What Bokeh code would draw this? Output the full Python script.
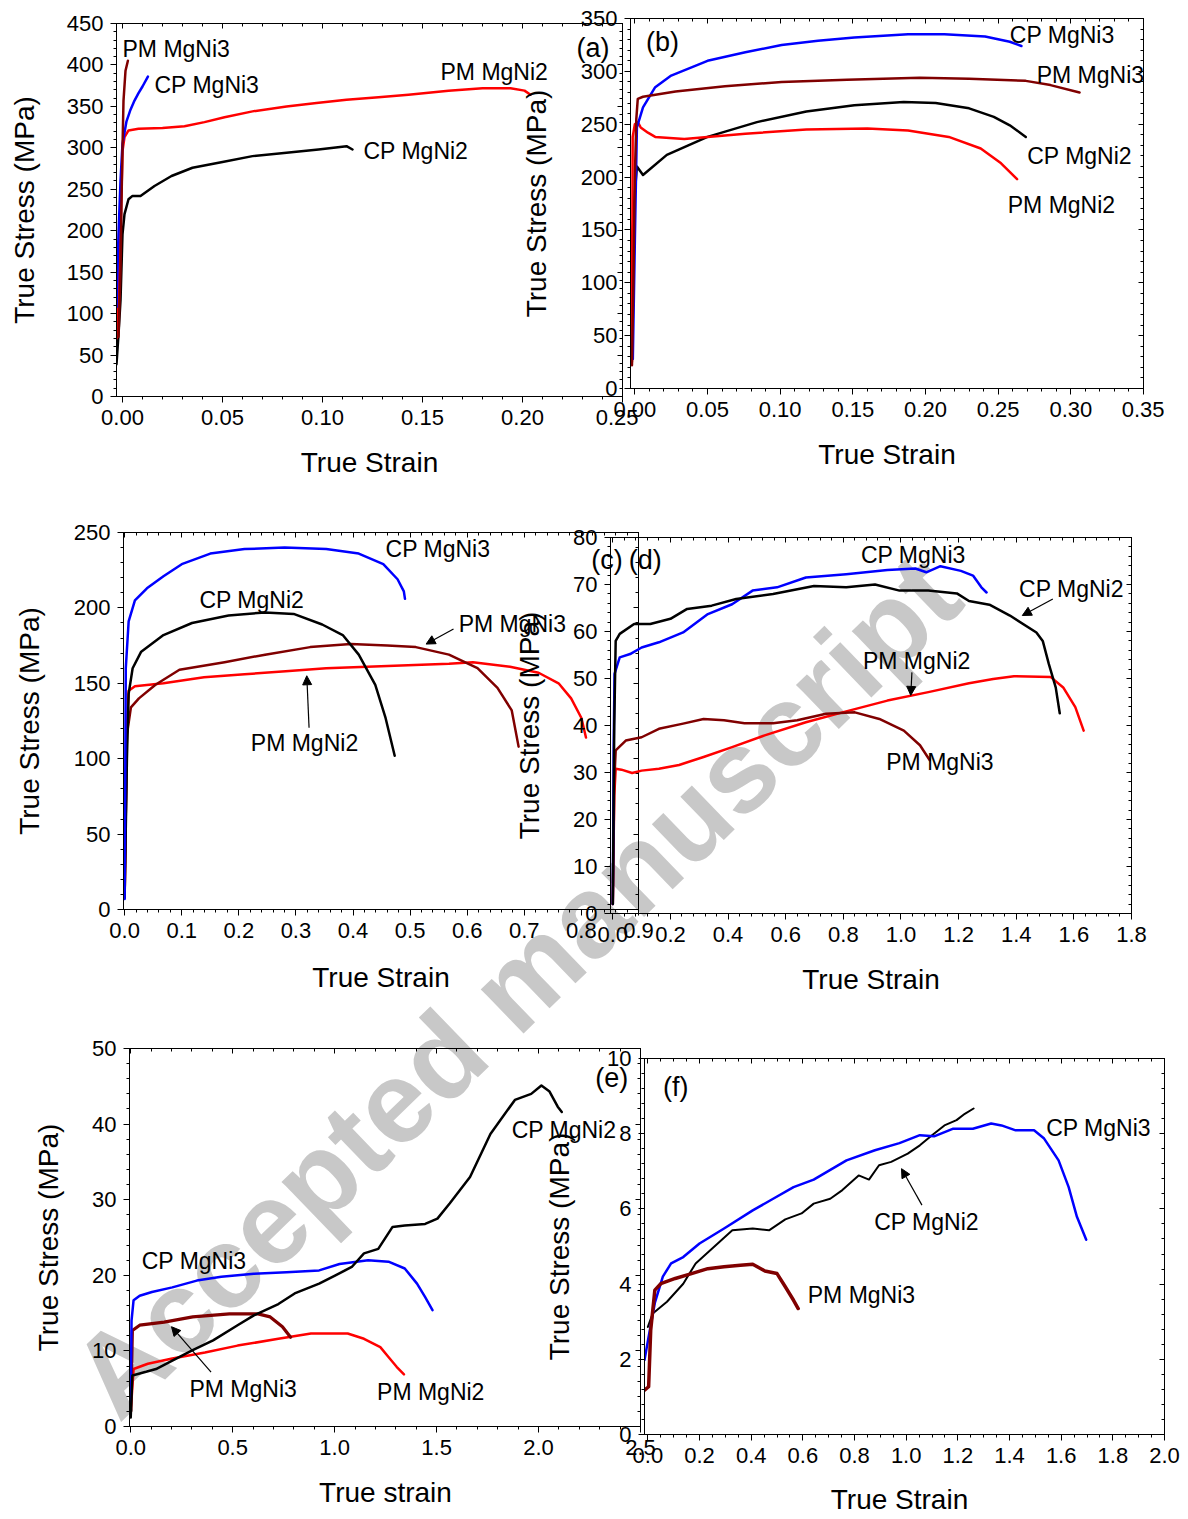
import numpy as np
from bokeh.plotting import figure
from bokeh.models import Range1d, LinearAxis, FixedTicker, Label, Arrow, NormalHead, Row, Column
from bokeh.embed import file_html
from bokeh.resources import INLINE

FONT = "Liberation Sans"
BLUE = "#0000ff"
RED = "#ff0000"
DARKRED = "#800000"
BLACK = "#000000"

# ---------------- panel (a) ----------------
A_XTICKS = [0.00, 0.05, 0.10, 0.15, 0.20, 0.25]
A_XTICK_LABELS = ["0.00", "0.05", "0.10", "0.15", "0.20", "0.25"]
A_YTICKS = [0, 50, 100, 150, 200, 250, 300, 350, 400, 450]
A_YTICK_LABELS = ["0", "50", "100", "150", "200", "250", "300", "350", "400", "450"]
A_CP_MGNI2_X = [-0.003, -0.002, -0.001, 0.000, 0.001, 0.003, 0.005, 0.009, 0.016, 0.0245, 0.035, 0.050, 0.065, 0.082, 0.098, 0.112, 0.115]
A_CP_MGNI2_Y = [39, 75, 116, 196, 220, 238, 242, 242, 254, 266, 276, 283, 290, 294, 298, 302, 298]
A_PM_MGNI2_X = [-0.003, -0.002, -0.001, 0.000, 0.001, 0.003, 0.008, 0.020, 0.031, 0.041, 0.051, 0.065, 0.082, 0.097, 0.112, 0.128, 0.143, 0.163, 0.180, 0.194, 0.201, 0.204]
A_PM_MGNI2_Y = [70, 116, 196, 296, 313, 321, 323, 324, 326, 331, 337, 344, 350, 354, 358, 361, 364, 369, 372, 372, 369, 364]
A_CP_MGNI3_X = [-0.003, -0.002, -0.001, 0.000, 0.002, 0.004, 0.006, 0.008, 0.010, 0.0127]
A_CP_MGNI3_Y = [108, 196, 260, 305, 332, 346, 357, 366, 374, 386]
A_PM_MGNI3_X = [-0.002, -0.001, -0.0005, 0.000, 0.0005, 0.0015, 0.0027]
A_PM_MGNI3_Y = [72, 150, 236, 300, 357, 393, 405]
A_LABELS = [("PM MgNi3", 0.000, 419), ("CP MgNi3", 0.016, 376), ("PM MgNi2", 0.159, 391), ("CP MgNi2", 0.1205, 296)]
A_TAG = ("(a)", 0.2353, 420)

# ---------------- panel (b) ----------------
B_XTICKS = [0.00, 0.05, 0.10, 0.15, 0.20, 0.25, 0.30, 0.35]
B_XTICK_LABELS = ["0.00", "0.05", "0.10", "0.15", "0.20", "0.25", "0.30", "0.35"]
B_YTICKS = [0, 50, 100, 150, 200, 250, 300, 350]
B_YTICK_LABELS = ["0", "50", "100", "150", "200", "250", "300", "350"]
B_CP_MGNI3_X = [-0.0014, 0.000, 0.0014, 0.0056, 0.014, 0.025, 0.050, 0.076, 0.101, 0.126, 0.151, 0.188, 0.213, 0.241, 0.258, 0.266]
B_CP_MGNI3_Y = [28, 140, 247, 266, 285, 296, 310, 318, 325, 329, 332, 335, 335, 333, 328, 324]
B_PM_MGNI3_X = [-0.002, -0.001, 0.000, 0.001, 0.002, 0.0056, 0.028, 0.062, 0.101, 0.146, 0.196, 0.230, 0.269, 0.286, 0.306]
B_PM_MGNI3_Y = [22, 100, 200, 255, 274, 276, 281, 286, 290, 292, 294, 293, 291, 287, 280]
B_CP_MGNI2_X = [-0.003, -0.002, 0.000, 0.0014, 0.0056, 0.022, 0.050, 0.084, 0.118, 0.151, 0.185, 0.207, 0.230, 0.247, 0.258, 0.269]
B_CP_MGNI2_Y = [118, 140, 185, 210, 202, 221, 238, 252, 262, 268, 271, 270, 265, 257, 249, 238]
B_PM_MGNI2_X = [-0.002, -0.0018, -0.0015, 0.000, 0.002, 0.004, 0.009, 0.014, 0.034, 0.076, 0.118, 0.160, 0.188, 0.216, 0.238, 0.252, 0.263]
B_PM_MGNI2_Y = [25, 120, 238, 250, 252, 247, 242, 238, 236, 241, 245, 246, 244, 238, 227, 213, 198]
B_LABELS = [("CP MgNi3", 0.258, 334), ("PM MgNi3", 0.2765, 297), ("CP MgNi2", 0.270, 220), ("PM MgNi2", 0.2566, 174)]
B_TAG = ("(b)", 0.019, 328)

# ---------------- panel (c) ----------------
C_XTICKS = [0.0, 0.1, 0.2, 0.3, 0.4, 0.5, 0.6, 0.7, 0.8, 0.9]
C_XTICK_LABELS = ["0.0", "0.1", "0.2", "0.3", "0.4", "0.5", "0.6", "0.7", "0.8", "0.9"]
C_YTICKS = [0, 50, 100, 150, 200, 250]
C_YTICK_LABELS = ["0", "50", "100", "150", "200", "250"]
C_CP_MGNI3_X = [0.000, 0.002, 0.007, 0.018, 0.039, 0.068, 0.100, 0.150, 0.210, 0.280, 0.353, 0.410, 0.453, 0.478, 0.489, 0.491]
C_CP_MGNI3_Y = [7, 160, 191, 205, 213, 221, 229, 236, 239, 240, 239, 236, 229, 219, 211, 206]
C_CP_MGNI2_X = [0.000, 0.004, 0.007, 0.014, 0.029, 0.068, 0.118, 0.182, 0.246, 0.296, 0.346, 0.382, 0.410, 0.439, 0.457, 0.473]
C_CP_MGNI2_Y = [8, 100, 143, 160, 171, 182, 190, 195, 197, 196, 189, 182, 169, 149, 127, 102]
C_PM_MGNI3_X = [0.000, 0.004, 0.011, 0.025, 0.054, 0.096, 0.175, 0.246, 0.325, 0.396, 0.460, 0.510, 0.568, 0.618, 0.653, 0.678, 0.690]
C_PM_MGNI3_Y = [8, 116, 134, 140, 149, 159, 164, 169, 174, 176, 175, 174, 169, 160, 147, 132, 108]
C_PM_MGNI2_X = [0.000, 0.004, 0.007, 0.018, 0.068, 0.139, 0.210, 0.282, 0.353, 0.425, 0.496, 0.568, 0.610, 0.675, 0.725, 0.760, 0.782, 0.800, 0.808]
C_PM_MGNI2_Y = [8, 120, 145, 148, 150, 154, 156, 158, 160, 161, 162, 163, 164, 161, 157, 150, 140, 127, 114]
C_LABELS = [("CP MgNi3", 0.457, 239), ("CP MgNi2", 0.131, 205), ("PM MgNi3", 0.585, 189), ("PM MgNi2", 0.221, 110.6)]
C_ARROWS = [(0.576, 186, 0.528, 176), (0.323, 120.5, 0.319, 155)]
C_TAG = ("(c)", 0.845, 232)

# ---------------- panel (d) ----------------
D_XTICKS = [0.0, 0.2, 0.4, 0.6, 0.8, 1.0, 1.2, 1.4, 1.6, 1.8]
D_XTICK_LABELS = ["0.0", "0.2", "0.4", "0.6", "0.8", "1.0", "1.2", "1.4", "1.6", "1.8"]
D_YTICKS = [0, 10, 20, 30, 40, 50, 60, 70, 80]
D_YTICK_LABELS = ["0", "10", "20", "30", "40", "50", "60", "70", "80"]
D_CP_MGNI3_X = [0.000, 0.003, 0.006, 0.024, 0.060, 0.100, 0.160, 0.244, 0.330, 0.414, 0.485, 0.570, 0.670, 0.810, 0.953, 1.050, 1.088, 1.137, 1.208, 1.250, 1.279, 1.297]
D_CP_MGNI3_Y = [2, 35, 51, 54.5, 55.2, 56.6, 57.7, 59.8, 63.7, 65.8, 68.7, 69.4, 71.5, 72.2, 73.1, 73.4, 72.6, 73.9, 72.9, 71.9, 69.4, 68.3]
D_CP_MGNI2_X = [0.000, 0.005, 0.010, 0.024, 0.074, 0.130, 0.200, 0.258, 0.343, 0.428, 0.556, 0.698, 0.810, 0.910, 0.995, 1.095, 1.194, 1.236, 1.307, 1.378, 1.470, 1.492, 1.513, 1.537, 1.551]
D_CP_MGNI2_Y = [2, 40, 58, 59.5, 61.6, 61.6, 62.7, 64.8, 65.5, 66.9, 68.0, 69.7, 69.4, 70.0, 68.7, 68.7, 68.1, 66.5, 65.7, 63.4, 59.8, 58.0, 53.1, 48.1, 42.6]
D_PM_MGNI3_X = [0.000, 0.005, 0.010, 0.045, 0.100, 0.160, 0.244, 0.315, 0.386, 0.457, 0.556, 0.640, 0.740, 0.840, 0.925, 1.010, 1.066, 1.100]
D_PM_MGNI3_Y = [2, 28, 34.7, 36.8, 37.5, 39.3, 40.4, 41.4, 41.1, 40.5, 40.5, 41.1, 42.5, 42.8, 41.4, 38.9, 35.8, 32.6]
D_PM_MGNI2_X = [0.000, 0.005, 0.010, 0.030, 0.067, 0.100, 0.160, 0.230, 0.315, 0.414, 0.527, 0.670, 0.810, 0.953, 1.095, 1.236, 1.320, 1.392, 1.520, 1.563, 1.605, 1.634]
D_PM_MGNI2_Y = [2, 25, 30.8, 30.6, 29.9, 30.4, 30.8, 31.6, 33.3, 35.4, 37.9, 40.7, 43.0, 45.3, 47.1, 49.0, 49.9, 50.5, 50.3, 48.1, 43.9, 38.9]
D_LABELS = [("CP MgNi3", 0.861, 76.3), ("CP MgNi2", 1.41, 69.0), ("PM MgNi2", 0.868, 53.8), ("PM MgNi3", 0.949, 32.2)]
D_ARROWS = [(1.527, 66.9, 1.421, 63.4), (1.038, 51.3, 1.034, 46.4)]
D_TAG = ("(d)", 0.1125, 75.3)

# ---------------- panel (e) ----------------
E_XTICKS = [0.0, 0.5, 1.0, 1.5, 2.0, 2.5]
E_XTICK_LABELS = ["0.0", "0.5", "1.0", "1.5", "2.0", "2.5"]
E_YTICKS = [0, 10, 20, 30, 40, 50]
E_YTICK_LABELS = ["0", "10", "20", "30", "40", "50"]
E_CP_MGNI2_X = [0.000, 0.008, 0.044, 0.124, 0.204, 0.304, 0.404, 0.524, 0.604, 0.724, 0.804, 0.924, 1.004, 1.084, 1.144, 1.214, 1.284, 1.344, 1.444, 1.504, 1.564, 1.664, 1.764, 1.884, 1.964, 2.014, 2.054, 2.094, 2.114]
E_CP_MGNI2_Y = [1.2, 6.75, 7.0, 7.6, 8.7, 10.1, 11.4, 13.4, 14.7, 16.2, 17.6, 18.9, 20.0, 21.1, 22.9, 23.5, 26.4, 26.6, 26.8, 27.5, 29.5, 33.0, 38.7, 43.2, 44.0, 45.1, 44.3, 42.3, 41.6]
E_CP_MGNI3_X = [0.000, 0.004, 0.014, 0.044, 0.104, 0.204, 0.324, 0.444, 0.604, 0.764, 0.924, 1.024, 1.164, 1.264, 1.344, 1.404, 1.444, 1.480]
E_CP_MGNI3_Y = [2.5, 14.0, 16.7, 17.3, 17.8, 18.4, 19.3, 19.8, 20.2, 20.4, 20.65, 21.5, 22.0, 21.8, 20.9, 18.9, 17.1, 15.4]
E_PM_MGNI3_X = [0.000, 0.008, 0.044, 0.164, 0.304, 0.484, 0.624, 0.684, 0.744, 0.784]
E_PM_MGNI3_Y = [2.0, 12.7, 13.4, 13.8, 14.5, 14.9, 14.9, 14.5, 13.2, 11.8]
E_PM_MGNI2_X = [0.000, 0.014, 0.084, 0.204, 0.364, 0.524, 0.724, 0.884, 1.064, 1.144, 1.224, 1.264, 1.304, 1.340]
E_PM_MGNI2_Y = [2.0, 7.6, 8.3, 9.0, 9.8, 10.7, 11.6, 12.3, 12.3, 11.6, 10.5, 9.2, 7.9, 6.9]
E_LABELS = [("CP MgNi2", 1.868, 39.2), ("CP MgNi3", 0.054, 21.9), ("PM MgNi3", 0.288, 4.9), ("PM MgNi2", 1.208, 4.6)]
E_ARROWS = [(0.394, 7.2, 0.200, 13.2)]
E_TAG = ("(e)", 2.359, 46.1)

# ---------------- panel (f) ----------------
F_XTICKS = [0.0, 0.2, 0.4, 0.6, 0.8, 1.0, 1.2, 1.4, 1.6, 1.8, 2.0]
F_XTICK_LABELS = ["0.0", "0.2", "0.4", "0.6", "0.8", "1.0", "1.2", "1.4", "1.6", "1.8", "2.0"]
F_YTICKS = [0, 2, 4, 6, 8, 10]
F_YTICK_LABELS = ["0", "2", "4", "6", "8", "10"]
F_CP_MGNI3_X = [-0.013, 0.003, 0.027, 0.058, 0.090, 0.137, 0.200, 0.295, 0.406, 0.485, 0.564, 0.642, 0.769, 0.879, 0.974, 1.053, 1.108, 1.180, 1.258, 1.329, 1.369, 1.424, 1.495, 1.534, 1.590, 1.629, 1.661, 1.697]
F_CP_MGNI3_Y = [1.98, 2.6, 3.5, 4.2, 4.55, 4.72, 5.08, 5.48, 5.96, 6.27, 6.58, 6.78, 7.29, 7.56, 7.75, 7.96, 7.93, 8.13, 8.13, 8.27, 8.22, 8.09, 8.09, 7.87, 7.29, 6.58, 5.79, 5.18]
F_CP_MGNI2_X = [0.000, 0.019, 0.074, 0.137, 0.185, 0.248, 0.327, 0.406, 0.469, 0.532, 0.595, 0.642, 0.706, 0.753, 0.816, 0.856, 0.895, 0.942, 1.006, 1.053, 1.100, 1.148, 1.195, 1.227, 1.261]
F_CP_MGNI2_Y = [2.86, 3.22, 3.53, 4.01, 4.55, 4.94, 5.43, 5.48, 5.43, 5.72, 5.88, 6.14, 6.27, 6.50, 6.89, 6.78, 7.16, 7.25, 7.47, 7.69, 7.96, 8.22, 8.36, 8.53, 8.67]
F_PM_MGNI3_X = [-0.013, 0.003, 0.011, 0.027, 0.050, 0.106, 0.169, 0.232, 0.295, 0.358, 0.406, 0.453, 0.500, 0.532, 0.564, 0.582]
F_PM_MGNI3_Y = [1.18, 1.27, 2.77, 3.84, 4.01, 4.15, 4.28, 4.41, 4.46, 4.50, 4.53, 4.35, 4.28, 3.93, 3.57, 3.35]
F_LABELS = [("CP MgNi3", 1.542, 8.16), ("CP MgNi2", 0.876, 5.64), ("PM MgNi3", 0.619, 3.72)]
F_ARROWS = [(1.061, 6.1, 0.982, 7.07)]
F_TAG = ("(f)", 0.108, 9.24)

WATERMARK = "Accepted manuscript"
# bottom-row x-axis titles (page positions on the full-page layer, y measured up from page bottom)
BOTTOM_TITLES = [("True strain", 385, 26), ("True Strain", 899, 19)]

PAGE_W, PAGE_H = 1188, 1518


def minor_ticks(lo, hi, step):
    n0 = int(np.ceil(lo / step - 1e-9))
    n1 = int(np.floor(hi / step + 1e-9))
    return [round(k * step, 6) for k in range(n0, n1 + 1)]


def make_panel(xr, yr, fw, fh, bl, br, bt, bb, xt, xtl, xstep, yt, ytl, ystep,
               xlabel, ylabel, xstand, ystand, margin):
    ex = (xr[1] - xr[0]) * 1e-6
    ey = (yr[1] - yr[0]) * 1e-6
    p = figure(width=bl + fw + br, height=bt + fh + bb,
               x_range=Range1d(xr[0] - ex, xr[1] + ex), y_range=Range1d(yr[0] - ey, yr[1] + ey),
               min_border_left=bl, min_border_right=br, min_border_top=bt, min_border_bottom=bb,
               output_backend="svg", toolbar_location=None,
               background_fill_color=None, border_fill_color=None,
               outline_line_color="black", outline_line_width=1)
    p.margin = margin
    p.grid.visible = False
    xticker = FixedTicker(ticks=xt, minor_ticks=minor_ticks(xr[0], xr[1], xstep))
    yticker = FixedTicker(ticks=yt, minor_ticks=minor_ticks(yr[0], yr[1], ystep))
    for ax, tk, tl, lab, st in ((p.xaxis[0], xticker, xtl, xlabel, xstand),
                                (p.yaxis[0], yticker, ytl, ylabel, ystand)):
        ax.ticker = tk
        ax.major_label_overrides = {t: s for t, s in zip(tk.ticks, tl)}
        ax.axis_line_color = "black"
        ax.axis_line_width = 1
        ax.major_tick_out = 6
        ax.major_tick_in = 0
        ax.minor_tick_out = 3
        ax.minor_tick_in = 0
        ax.major_tick_line_color = "black"
        ax.minor_tick_line_color = "black"
        ax.major_label_text_font = FONT
        ax.major_label_text_font_size = "22px"
        ax.major_label_text_color = "black"
        ax.major_label_standoff = 7
        if lab is not None:
            ax.axis_label = lab
            ax.axis_label_text_font = FONT
            ax.axis_label_text_font_size = "28px"
            ax.axis_label_text_font_style = "normal"
            ax.axis_label_text_color = "black"
            ax.axis_label_standoff = st
    for tk, side in ((xticker, "above"), (yticker, "right")):
        ax2 = LinearAxis(ticker=tk, major_tick_in=5, major_tick_out=0,
                         minor_tick_in=3, minor_tick_out=0,
                         major_label_text_font_size="1px", major_label_standoff=0,
                         major_label_overrides={t: "" for t in tk.ticks},
                         axis_line_color="black")
        p.add_layout(ax2, side)
    return p


def add_curves(p, curves):
    for xs, ys, color, lw in curves:
        p.line(xs, ys, line_color=color, line_width=lw, line_join="round", line_cap="round")


def add_labels(p, labels, tag, arrows=()):
    for text, x, y in labels:
        p.add_layout(Label(x=x, y=y, text=text, text_font=FONT, text_font_size="23px",
                           text_color="black", text_align="left", text_baseline="middle"))
    t, x, y = tag
    p.add_layout(Label(x=x, y=y, text=t, text_font=FONT, text_font_size="27px",
                       text_color="black", text_align="center", text_baseline="middle"))
    for x0, y0, x1, y1 in arrows:
        p.add_layout(Arrow(x_start=x0, y_start=y0, x_end=x1, y_end=y1,
                           line_color="black", line_width=1.2,
                           end=NormalHead(size=9, fill_color="black", line_color="black")))


YL = "True Stress (MPa)"
XL = "True Strain"

# row 1 (top at 0); shared top/bottom borders, offsets by margins
pa = make_panel((-0.003, 0.25), (0, 450), 506, 373, 116, 16, 23, 100,
                A_XTICKS, A_XTICK_LABELS, 0.01, A_YTICKS, A_YTICK_LABELS, 10,
                XL, YL, 19, 24, (0, 0, 0, 0))
add_curves(pa, [(A_CP_MGNI2_X, A_CP_MGNI2_Y, BLACK, 2.5), (A_PM_MGNI2_X, A_PM_MGNI2_Y, RED, 2.5),
                (A_CP_MGNI3_X, A_CP_MGNI3_Y, BLUE, 2.5), (A_PM_MGNI3_X, A_PM_MGNI3_Y, DARKRED, 2.5)])
add_labels(pa, A_LABELS, A_TAG)

pb = make_panel((-0.003, 0.35), (0, 350), 513, 370, 115, 21, 23, 100,
                B_XTICKS, B_XTICK_LABELS, 0.01, B_YTICKS, B_YTICK_LABELS, 10,
                XL, YL, 19, 26, (-5, 0, 0, -123))
add_curves(pb, [(B_CP_MGNI2_X, B_CP_MGNI2_Y, BLACK, 2.5), (B_PM_MGNI2_X, B_PM_MGNI2_Y, RED, 2.5),
                (B_CP_MGNI3_X, B_CP_MGNI3_Y, BLUE, 2.5), (B_PM_MGNI3_X, B_PM_MGNI3_Y, DARKRED, 2.5)])
add_labels(pb, B_LABELS, B_TAG)

# row 2 (top at 480)
pc = make_panel((-0.002, 0.9), (0, 250), 515, 377, 123, 18, 57, 104,
                C_XTICKS, C_XTICK_LABELS, 0.02, C_YTICKS, C_YTICK_LABELS, 10,
                XL, YL, 21, 26, (-5, 0, 0, 0))
add_curves(pc, [(C_PM_MGNI2_X, C_PM_MGNI2_Y, RED, 2.5), (C_PM_MGNI3_X, C_PM_MGNI3_Y, DARKRED, 2.5),
                (C_CP_MGNI2_X, C_CP_MGNI2_Y, BLACK, 2.5), (C_CP_MGNI3_X, C_CP_MGNI3_Y, BLUE, 2.5)])
add_labels(pc, C_LABELS, C_TAG, C_ARROWS)

pd_ = make_panel((-0.008, 1.8), (0, 80), 521, 376, 100, 21, 57, 104,
                 D_XTICKS, D_XTICK_LABELS, 0.04, D_YTICKS, D_YTICK_LABELS, 2,
                 XL, YL, 19, 25, (0, 0, 0, -146))
add_curves(pd_, [(D_PM_MGNI2_X, D_PM_MGNI2_Y, RED, 2.5), (D_PM_MGNI3_X, D_PM_MGNI3_Y, DARKRED, 2.5),
                 (D_CP_MGNI3_X, D_CP_MGNI3_Y, BLUE, 2.5), (D_CP_MGNI2_X, D_CP_MGNI2_Y, BLACK, 2.5)])
add_labels(pd_, D_LABELS, D_TAG, D_ARROWS)

# row 3 (top at 995)
pe = make_panel((-0.006, 2.5), (0, 50), 511, 378, 129, 18, 63, 84,
                E_XTICKS, E_XTICK_LABELS, 0.1, E_YTICKS, E_YTICK_LABELS, 2,
                None, YL, 0, 25, (-10, 0, 0, 0))
add_curves(pe, [(E_PM_MGNI2_X, E_PM_MGNI2_Y, RED, 2.5), (E_PM_MGNI3_X, E_PM_MGNI3_Y, DARKRED, 3.2),
                (E_CP_MGNI3_X, E_CP_MGNI3_Y, BLUE, 2.5), (E_CP_MGNI2_X, E_CP_MGNI2_Y, BLACK, 2.5)])
add_labels(pe, E_LABELS, E_TAG, E_ARROWS)

pf = make_panel((-0.013, 2.0), (0, 10), 520, 376, 104, 18, 63, 84,
                F_XTICKS, F_XTICK_LABELS, 0.05, F_YTICKS, F_YTICK_LABELS, 0.4,
                None, YL, 0, 29, (0, 0, 0, -118))
add_curves(pf, [(F_CP_MGNI2_X, F_CP_MGNI2_Y, BLACK, 2.0), (F_CP_MGNI3_X, F_CP_MGNI3_Y, BLUE, 2.5),
                (F_PM_MGNI3_X, F_PM_MGNI3_Y, DARKRED, 3.5)])
add_labels(pf, F_LABELS, F_TAG, F_ARROWS)

# full-page layer underneath all panels: watermark + bottom-row axis titles
wm = figure(width=PAGE_W, height=PAGE_H, x_range=Range1d(0, PAGE_W), y_range=Range1d(0, PAGE_H),
            min_border=0, output_backend="svg", toolbar_location=None,
            x_axis_location=None, y_axis_location=None,
            background_fill_color=None, border_fill_color=None, outline_line_color=None)
wm.grid.visible = False
wm.add_layout(Label(x=515, y=PAGE_H - 985, text=WATERMARK, angle=44, angle_units="deg",
                    text_font=FONT, text_font_size="116px", text_font_style="bold",
                    text_color="#c8c8c8", text_align="center", text_baseline="middle"))
for t, x, y in BOTTOM_TITLES:
    wm.add_layout(Label(x=x, y=y, text=t, text_font=FONT, text_font_size="28px",
                        text_color="black", text_align="center", text_baseline="middle"))

h1 = max(pa.height, pb.height - 5)
h2 = max(pc.height - 5, pd_.height)
row1 = Row(children=[pa, pb], margin=(-PAGE_H, 0, 0, 0))
row2 = Row(children=[pc, pd_], margin=(480 - h1, 0, 0, 0))
row3 = Row(children=[pe, pf], margin=(995 - (480 + h2), 0, 0, 0))
layout = Column(children=[wm, row1, row2, row3])

open("out.html", "w").write(file_html(layout, INLINE))
